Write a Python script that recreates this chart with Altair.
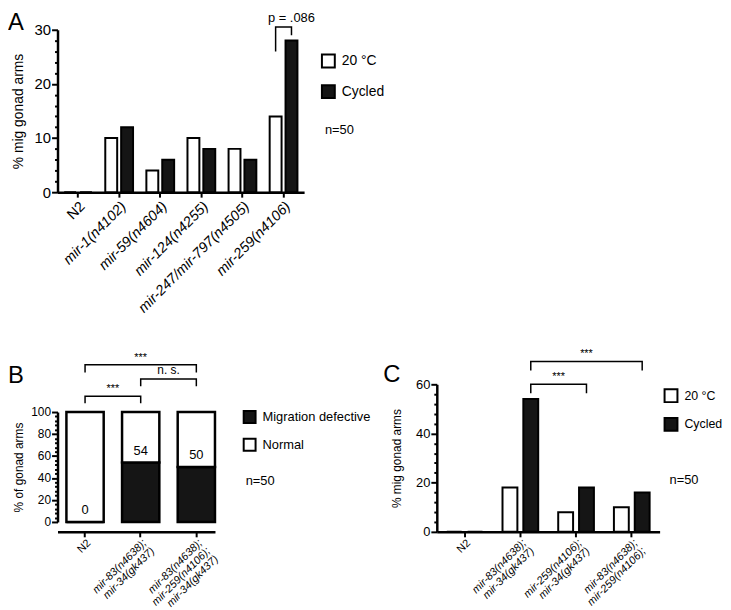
import altair as alt
import pandas as pd

FONT = "Liberation Sans"

# ---------------- data ----------------
conditions = ["20 °C", "Cycled"]

a_strains = ["N2", "mir-1(n4102)", "mir-59(n4604)", "mir-124(n4255)",
             "mir-247/mir-797(n4505)", "mir-259(n4106)"]
a_20c = [0, 10, 4, 10, 8, 14]
a_cycled = [0, 12, 6, 8, 6, 28]

b_strains = ["N2", "mir-83(n4638);|mir-34(gk437)",
             "mir-83(n4638);|mir-259(n4106);|mir-34(gk437)"]
b_classes = ["Migration defective", "Normal"]
b_defective = [0, 54, 50]
b_normal = [100, 46, 50]

c_strains = ["N2", "mir-83(n4638);|mir-34(gk437)",
             "mir-259(n4106);|mir-34(gk437)", "mir-83(n4638);|mir-259(n4106);"]
c_20c = [0, 18, 8, 10]
c_cycled = [0, 54, 18, 16]

# y-axis ticks: every value gets a tick, multiples of `major` get a label
a_ticks, a_major = list(range(0, 31, 2)), 10
b_ticks, b_major = list(range(0, 101, 4)), 20
c_ticks, c_major = list(range(0, 61, 4)), 20

# significance brackets
a_brackets = [("mir-259(n4106)", "20 °C", "mir-259(n4106)", "Cycled", 26.0, 30.5, 29.0, "p = .086")]
b_brackets = [(0, 2, 136, 143, 136, "***"),
              (1, 2, 123.4, 130, 123.4, "n. s."),
              (0, 1, 108, 114.4, 108, "***")]
c_brackets = [(1, 3, 65.6, 69.3, 65.6, "***"),
              (1, 2, 56.4, 60, 56.4, "***")]

# ---------------- geometry ----------------
A_W, A_H = 249, 164
B_W, B_H = 159, 149
C_W, C_H = 225, 149

italic_cond = {"condition": {"test": "datum.value === 'N2'", "value": "normal"}, "value": "italic"}


def y_axis(values, major, fs, title, title_fs, title_pad):
    return alt.Axis(
        values=values, title=title, titleFontSize=title_fs, titlePadding=title_pad,
        labelExpr=f"datum.value % {major} === 0 ? datum.label : ''",
        labelFontSize=fs, labelPadding=1, labelOverlap=False,
        tickSize={"condition": {"test": f"datum.value % {major} === 0", "value": 6}, "value": 3})


def x_axis(fs, multiline, lh, pad):
    kw = {}
    if multiline:
        kw["labelExpr"] = "split(datum.label, '|')"
        kw["labelLineHeight"] = lh
    return alt.Axis(
        title=None, labelAngle=-45, labelAlign="right", labelBaseline="top",
        labelFontSize=fs, labelPadding=pad, labelFontStyle=italic_cond, labelOverlap=False,
        tickSize=5, **kw)


def legend(lx, ly, fs, sym, rowpad):
    return alt.Legend(orient="none", legendX=lx, legendY=ly, title=None,
                      symbolType="square", symbolSize=sym * sym, symbolStrokeColor="black",
                      symbolStrokeWidth=2, labelFont=FONT, labelFontSize=fs,
                      labelColor="black", rowPadding=rowpad, labelOffset=6, padding=0)


def text_at(t, x, y, fs, align="left", baseline="middle"):
    return alt.Chart(pd.DataFrame({"t": [t]})).mark_text(
        align=align, baseline=baseline, font=FONT, fontSize=fs, color="black"
    ).encode(x=alt.value(x), y=alt.value(y), text="t:N")


# ---------------- Panel A ----------------
dfA = pd.DataFrame({"strain": a_strains * 2,
                    "cond": [conditions[0]] * len(a_strains) + [conditions[1]] * len(a_strains),
                    "value": a_20c + a_cycled})
xA_axis = x_axis(14.5, False, 15, 2)
yA_axis = y_axis(a_ticks, a_major, 15, "% mig gonad arms", 14, 9)
xA = lambda f: alt.X(f, sort=a_strains, scale=alt.Scale(domain=a_strains, paddingInner=0, paddingOuter=0), axis=xA_axis)
xoA = lambda f: alt.XOffset(f, sort=conditions, scale=alt.Scale(domain=conditions, paddingInner=0.25, paddingOuter=0.42))
yA = lambda f: alt.Y(f, scale=alt.Scale(domain=[0, 30], nice=False), axis=yA_axis)

barsA = alt.Chart(dfA).mark_bar(stroke="black", strokeWidth=2).encode(
    x=xA("strain:N"), xOffset=xoA("cond:N"), y=yA("value:Q"),
    color=alt.Color("cond:N", sort=conditions,
                    scale=alt.Scale(domain=conditions, range=["white", "#151515"]),
                    legend=legend(266, 24, 14, 13, 10)),
)
rowsA = []
for k, (ls, lc, rs, rc, ll, top, rl, t) in enumerate(a_brackets):
    rowsA += [dict(id=k, i=0, strain=ls, cond=lc, value=ll), dict(id=k, i=1, strain=ls, cond=lc, value=top),
              dict(id=k, i=2, strain=rs, cond=rc, value=top), dict(id=k, i=3, strain=rs, cond=rc, value=rl)]
brA = alt.Chart(pd.DataFrame(rowsA)).mark_line(color="black", strokeWidth=1.5).encode(
    x=xA("strain:N"), xOffset=xoA("cond:N"), y=yA("value:Q"), order="i:Q", detail="id:N")
brA_txt = alt.Chart(pd.DataFrame([dict(strain=b[2], cond=b[3], value=b[5], t=b[7]) for b in a_brackets])).mark_text(
    baseline="bottom", dy=-2, font=FONT, fontSize=13, color="black").encode(
    x=xA("strain:N"), xOffset=xoA("cond:N"), y=yA("value:Q"), text="t:N")

panelA = alt.layer(
    barsA, brA, brA_txt,
    text_at("A", -50, -19, 24, baseline="top"),
    text_at("n=50", 270, 101, 13),
).properties(width=A_W, height=A_H)

# ---------------- Panel B ----------------
dfB = pd.DataFrame({"strain": b_strains * 2,
                    "cls": [b_classes[0]] * 3 + [b_classes[1]] * 3,
                    "ord": [0] * 3 + [1] * 3,
                    "value": b_defective + b_normal})
xB_axis = x_axis(11, True, 11.5, 0)
yB_axis = y_axis(b_ticks, b_major, 12, "% of gonad arms", 12, 5)
stepB = B_W / (3 - 0.33 + 2 * 0.08)
xB = lambda f: alt.X(f, sort=b_strains, scale=alt.Scale(domain=b_strains, paddingInner=0.33, paddingOuter=0.08, align=1), axis=xB_axis)
yB = lambda f, **kw: alt.Y(f, scale=alt.Scale(domain=[0, 100], range=[B_H - 10, 28], nice=False), axis=yB_axis, **kw)

barsB = alt.Chart(dfB).mark_bar(stroke="black", strokeWidth=2.5).encode(
    x=xB("strain:N"), y=yB("value:Q", stack="zero"),
    color=alt.Color("cls:N", sort=b_classes,
                    scale=alt.Scale(domain=b_classes, range=["#151515", "white"]),
                    legend=legend(187, 26, 13, 12, 8)),
    order=alt.Order("ord:Q"),
)
lblB = alt.Chart(pd.DataFrame({"strain": b_strains, "value": b_defective,
                               "t": [str(v) for v in b_defective]})).mark_text(
    baseline="bottom", dy=-5, font=FONT, fontSize=13, color="black").encode(
    x=xB("strain:N"), y=yB("value:Q"), text="t:N")

rowsB = []
for k, (li, ri, ll, top, rl, t) in enumerate(b_brackets):
    rowsB += [dict(id=k, i=0, strain=b_strains[li], value=ll), dict(id=k, i=1, strain=b_strains[li], value=top),
              dict(id=k, i=2, strain=b_strains[ri], value=top), dict(id=k, i=3, strain=b_strains[ri], value=rl)]
brB = alt.Chart(pd.DataFrame(rowsB)).mark_line(color="black", strokeWidth=1.5).encode(
    x=xB("strain:N"), y=yB("value:Q"), order="i:Q", detail="id:N")
brB_txts = []
for (li, ri, ll, top, rl, t) in b_brackets:
    brB_txts.append(alt.Chart(pd.DataFrame({"strain": [b_strains[li]], "value": [top], "t": [t]})).mark_text(
        baseline="bottom", dy=-2, dx=(ri - li) * stepB / 2, font=FONT,
        fontSize=11 if t == "***" else 12, color="black").encode(
        x=xB("strain:N"), y=yB("value:Q"), text="t:N"))

panelB = alt.layer(
    barsB, lblB, brB, *brB_txts,
    text_at("B", -50, -1, 24, baseline="alphabetic"),
    text_at("n=50", 190, 98, 13),
).properties(width=B_W, height=B_H)

# ---------------- Panel C ----------------
dfC = pd.DataFrame({"strain": c_strains * 2,
                    "cond": [conditions[0]] * len(c_strains) + [conditions[1]] * len(c_strains),
                    "value": c_20c + c_cycled})
xC_axis = x_axis(11, True, 11.5, 0)
yC_axis = y_axis(c_ticks, c_major, 13, "% mig gonad arms", 12, 12)
stepC = C_W / len(c_strains)
xC = lambda f: alt.X(f, sort=c_strains, scale=alt.Scale(domain=c_strains, paddingInner=0, paddingOuter=0), axis=xC_axis)
xoC = lambda f: alt.XOffset(f, sort=conditions, scale=alt.Scale(domain=conditions, paddingInner=0.286, paddingOuter=0.48))
yC = lambda f: alt.Y(f, scale=alt.Scale(domain=[0, 60], nice=False), axis=yC_axis)

barsC = alt.Chart(dfC).mark_bar(stroke="black", strokeWidth=2).encode(
    x=xC("strain:N"), xOffset=xoC("cond:N"), y=yC("value:Q"),
    color=alt.Color("cond:N", sort=conditions,
                    scale=alt.Scale(domain=conditions, range=["white", "#151515"]),
                    legend=legend(229, 4, 12.5, 13, 8)),
)
rowsC = []
for k, (li, ri, ll, top, rl, t) in enumerate(c_brackets):
    rowsC += [dict(id=k, i=0, strain=c_strains[li], cond="Cycled", value=ll),
              dict(id=k, i=1, strain=c_strains[li], cond="Cycled", value=top),
              dict(id=k, i=2, strain=c_strains[ri], cond="Cycled", value=top),
              dict(id=k, i=3, strain=c_strains[ri], cond="Cycled", value=rl)]
brC = alt.Chart(pd.DataFrame(rowsC)).mark_line(color="black", strokeWidth=1.5).encode(
    x=xC("strain:N"), xOffset=xoC("cond:N"), y=yC("value:Q"), order="i:Q", detail="id:N")
brC_txts = []
for (li, ri, ll, top, rl, t) in c_brackets:
    brC_txts.append(alt.Chart(pd.DataFrame({"strain": [c_strains[li]], "cond": ["Cycled"], "value": [top], "t": [t]})).mark_text(
        baseline="bottom", dy=-2, dx=(ri - li) * stepC / 2, font=FONT, fontSize=11, color="black").encode(
        x=xC("strain:N"), xOffset=xoC("cond:N"), y=yC("value:Q"), text="t:N"))

panelC = alt.layer(
    barsC, brC, *brC_txts,
    text_at("C", -54, -2, 24, baseline="alphabetic"),
    text_at("n=50", 235, 97, 13),
).properties(width=C_W, height=C_H)

# ---------------- layout ----------------
bottom = alt.hconcat(panelB, panelC, spacing=224, bounds="flush").resolve_scale(
    x="independent", y="independent", color="independent", xOffset="independent")

chart = alt.vconcat(panelA, bottom, spacing=194, bounds="flush").resolve_scale(
    x="independent", y="independent", color="independent", xOffset="independent"
).properties(padding=0).configure(font=FONT).configure_axis(
    labelFont=FONT, labelColor="black", titleFont=FONT, titleColor="black",
    titleFontWeight="normal", domainColor="black", domainWidth=2.5,
    tickColor="black", tickWidth=2, grid=False, zindex=1
).configure_view(stroke=None)

chart.save("out.html", embed_options={"renderer": "svg", "actions": False})
